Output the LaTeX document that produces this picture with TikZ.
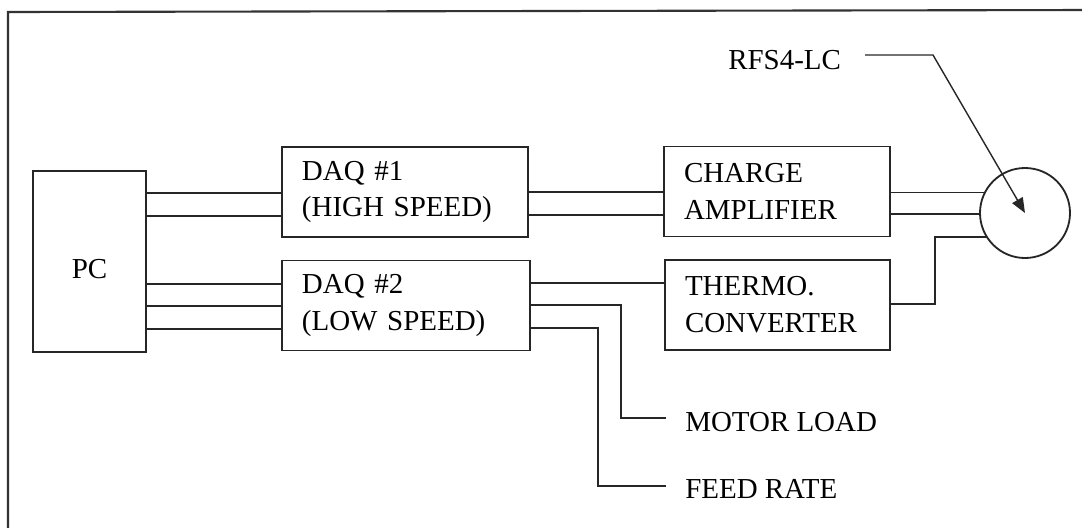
\documentclass[tikz,border=0pt]{standalone}
\usepackage{fontspec}
\setmainfont{Liberation Serif}
\usetikzlibrary{arrows.meta}

\tikzset{
  blockbox/.style={draw=black!85, line width=1.3pt, outer sep=0pt, align=left, inner xsep=5mm, minimum height=22.5mm},
  wire/.style={draw=black!85, line width=1.3pt},
  tag/.style={anchor=west, inner sep=0pt},
  pointer/.style={draw=black!85, line width=1pt, -{Triangle[length=3.75mm,width=3mm]}},
}

\begin{document}
\begin{tikzpicture}[x=0.25mm,y=-0.25mm,font=\fontsize{20.6}{26.3}\selectfont]
  \useasboundingbox (0,0) rectangle (1082,527);
  % frame
  \draw[line width=1.5pt,black!80] (8,540) -- (8,12) -- (1090,10);
  % blocks
  \node[blockbox, minimum width=28.25mm, minimum height=45.25mm] (pc) at (89.5,261.5) {};
  \node[inner sep=0pt] (pclabel) at (89.5,269.5) {PC};
  \node[blockbox, text width=51.5mm] (daq1) at (405,192) {DAQ \#1\\(HIGH SPEED)};
  \node[blockbox, text width=52mm] (daq2) at (406,305.5) {DAQ \#2\\(LOW SPEED)};
  \node[blockbox, text width=46.5mm] (charge) at (777,191.5) {CHARGE\\AMPLIFIER};
  \node[blockbox, text width=46.25mm] (thermo) at (777.5,305) {THERMO.\\CONVERTER};
  \node[draw=black!85, line width=1.3pt, circle, minimum size=22.5mm, inner sep=0pt, outer sep=0pt] (sensor) at (1025,213) {};
  % labels
  \node[tag] (rfs) at (728,60.5) {RFS4-LC};
  \node[tag] (motor) at (685,422) {MOTOR LOAD};
  \node[tag] (feed) at (685,489) {FEED RATE};
  \coordinate (bend) at (933,55);
  \coordinate (tjog) at (935,304);
  \coordinate (motorend) at (666,418);
  \coordinate (feedend) at (666,486);
  % wires
  \foreach \y in {193,216} \draw[wire] (pc.east |- 0,\y) -- (daq1.west |- 0,\y);
  \foreach \y in {284,306,329} \draw[wire] (pc.east |- 0,\y) -- (daq2.west |- 0,\y);
  \foreach \y in {192,215} \draw[wire] (daq1.east |- 0,\y) -- (charge.west |- 0,\y);
  \foreach \a in {153,181} \draw[wire] (charge.east |- sensor.\a) -- (sensor.\a);
  \draw[wire] (daq2.east |- 0,283) -- (thermo.west |- 0,283);
  \draw[wire] (thermo.east |- tjog) -- (tjog) |- (sensor.212);
  \draw[wire] (daq2.east |- 0,305) -| (621,418) -- (motorend);
  \draw[wire] (daq2.east |- 0,328) -| (598,486) -- (feedend);
  \draw[pointer] ([xshift=6mm]rfs.east |- bend) -- (bend) -- (sensor.center);
\end{tikzpicture}
\end{document}
